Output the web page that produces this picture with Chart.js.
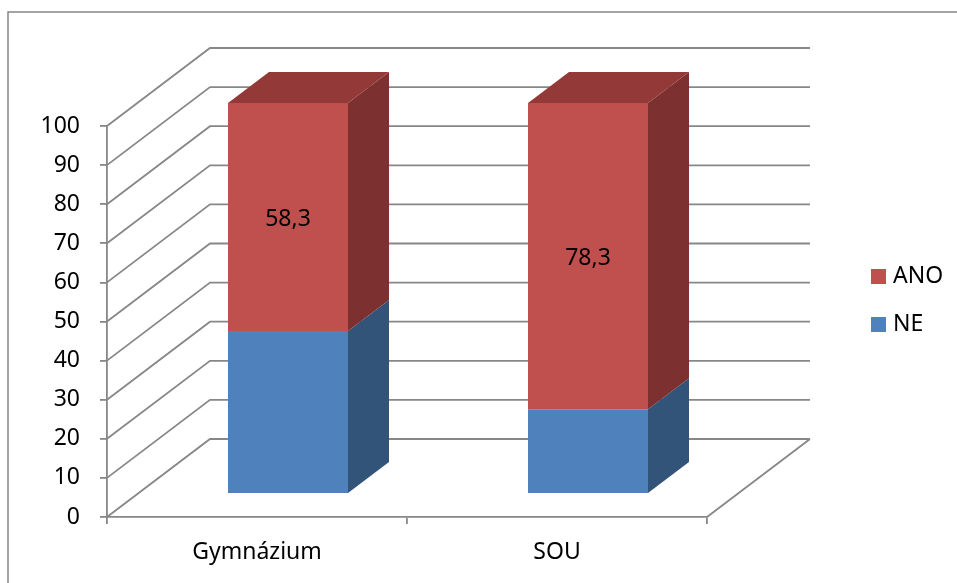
<!DOCTYPE html>
<html>
<head>
<meta charset="utf-8">
<script src="https://cdn.jsdelivr.net/npm/chart.js@4"></script>
<style>
    body { margin: 0; background: #fff; }
    #wrap { width: 957px; height: 583px; }
</style>
</head>
<body>
<div id="wrap"><canvas id="chart" width="957" height="583"></canvas></div>
<script>
const categories = ['Gymnázium', 'SOU'];
const seriesNames = ['NE', 'ANO'];
const neValues = [41.7, 21.7];
const anoValues = [58.3, 78.3];
const yTicks = [0, 10, 20, 30, 40, 50, 60, 70, 80, 90, 100];

const FONT = '"Noto Sans", sans-serif';
const GRID = '#878787';

// depth of the back wall, and where the bars sit inside it
const wallDx = 103, wallDy = -78;
const barShiftX = 31, barShiftY = -23;
const barDx = 41, barDy = -31;

const colors = {
    NE:  { front: '#4f81bd', side: '#325479', top: '#3c6496' },
    ANO: { front: '#c0504d', side: '#7c302f', top: '#933a38' }
};

function poly(ctx, pts, fill) {
    ctx.beginPath();
    ctx.moveTo(pts[0][0], pts[0][1]);
    for (let i = 1; i < pts.length; i++) ctx.lineTo(pts[i][0], pts[i][1]);
    ctx.closePath();
    ctx.fillStyle = fill;
    ctx.fill();
}

const fake3d = {
    id: 'fake3d',
    beforeDraw(chart) {
        const ctx = chart.ctx;
        ctx.save();
        ctx.strokeStyle = GRID;
        ctx.lineWidth = 1.5;
        ctx.beginPath();
        ctx.moveTo(8, 583);
        ctx.lineTo(8, 12);
        ctx.lineTo(957, 12);
        ctx.stroke();
        ctx.restore();
    },
    beforeDatasetsDraw(chart) {
        const ctx = chart.ctx;
        const area = chart.chartArea;
        const y = chart.scales.y;
        ctx.save();
        ctx.strokeStyle = GRID;
        ctx.lineWidth = 1.8;
        ctx.beginPath();
        yTicks.forEach(v => {
            const py = y.getPixelForValue(v);
            ctx.moveTo(area.left, py);
            ctx.lineTo(area.left + wallDx, py + wallDy);
            ctx.lineTo(area.right + wallDx, py + wallDy);
        });
        const y0 = y.getPixelForValue(0);
        ctx.moveTo(area.right, y0);
        ctx.lineTo(area.right + wallDx, y0 + wallDy);
        ctx.stroke();
        ctx.restore();

        ctx.save();
        ctx.translate(barShiftX, barShiftY);
    },
    afterDatasetsDraw(chart) {
        const ctx = chart.ctx;
        const last = chart.data.datasets.length - 1;
        chart.data.datasets.forEach((ds, di) => {
            const c = colors[ds.label];
            chart.getDatasetMeta(di).data.forEach(bar => {
                const p = bar.getProps(['x', 'y', 'base', 'width'], true);
                const l = p.x - p.width / 2, r = p.x + p.width / 2;
                poly(ctx, [[r, p.y], [r + barDx, p.y + barDy], [r + barDx, p.base + barDy], [r, p.base]], c.side);
                if (di === last) {
                    poly(ctx, [[l, p.y], [l + barDx, p.y + barDy], [r + barDx, p.y + barDy], [r, p.y]], c.top);
                }
            });
        });

        // value labels only on ANO
        const ai = seriesNames.indexOf('ANO');
        ctx.font = '23px ' + FONT;
        ctx.fillStyle = '#000';
        ctx.textAlign = 'center';
        ctx.textBaseline = 'middle';
        chart.getDatasetMeta(ai).data.forEach((bar, i) => {
            const p = bar.getProps(['x', 'y', 'base'], true);
            ctx.fillText(String(anoValues[i]).replace('.', ','), p.x, (p.y + p.base) / 2 + 2);
        });
        ctx.restore();
    },
    afterDraw(chart) {
        const ctx = chart.ctx;
        ctx.save();
        ctx.font = '23px ' + FONT;
        ctx.textBaseline = 'middle';
        ctx.textAlign = 'left';
        const order = ['ANO', 'NE'];
        order.forEach((name, i) => {
            const cy = 276.5 + i * 48;
            ctx.fillStyle = colors[name].front;
            ctx.fillRect(871, cy - 7.5, 15, 15);
            ctx.fillStyle = '#000';
            ctx.fillText(name, 893, cy);
        });
        ctx.restore();
    }
};

new Chart(document.getElementById('chart'), {
    type: 'bar',
    data: {
        labels: categories,
        datasets: [
            {
                label: seriesNames[0],
                data: neValues,
                backgroundColor: colors.NE.front,
                barPercentage: 0.4,
                categoryPercentage: 1
            },
            {
                label: seriesNames[1],
                data: anoValues,
                backgroundColor: colors.ANO.front,
                barPercentage: 0.4,
                categoryPercentage: 1
            }
        ]
    },
    options: {
        responsive: false,
        animation: false,
        events: [],
        layout: { padding: { left: 0, top: 126, right: 250, bottom: 0 } },
        plugins: {
            legend: { display: false },
            tooltip: { enabled: false }
        },
        scales: {
            x: {
                stacked: true,
                afterFit: s => { s.height = 66; },
                grid: { display: true, drawOnChartArea: false, tickLength: 7, color: GRID, lineWidth: 1.8, offset: true },
                border: { display: true, color: GRID, width: 1.8 },
                ticks: { color: '#000', font: { family: FONT, size: 23 }, padding: 15 }
            },
            y: {
                stacked: true,
                min: 0,
                max: 100,
                afterFit: s => { s.width = 107; },
                afterBuildTicks: s => { s.ticks = yTicks.map(v => ({ value: v })); },
                grid: { display: true, drawOnChartArea: false, tickLength: 7, color: GRID, lineWidth: 1.8 },
                border: { display: true, color: GRID, width: 1.8 },
                ticks: { color: '#000', font: { family: FONT, size: 23 }, padding: 20 }
            }
        }
    },
    plugins: [fake3d]
});
</script>
</body>
</html>
